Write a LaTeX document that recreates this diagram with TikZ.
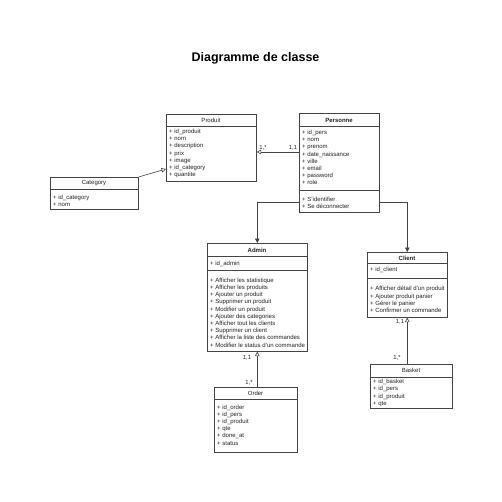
\documentclass[tikz,border=0pt]{standalone}
\usepackage{fontspec}
\setmainfont{Liberation Sans}
\usetikzlibrary{arrows.meta,calc}

\definecolor{linegray}{HTML}{444444}
\definecolor{textgray}{HTML}{222222}

\tikzset{
  classbox/.style={draw=linegray, fill=white, line width=0.6pt, inner sep=0pt, anchor=north west},
  classline/.style={draw=linegray, line width=0.6pt},
  classtitle/.style={font=\fontsize{6}{7}\selectfont, text=textgray, inner sep=0pt},
  boldtitle/.style={classtitle, font=\bfseries\fontsize{6}{7}\selectfont},
  members/.style={font=\fontsize{6}{7.2}\selectfont, align=left, inner sep=0pt, anchor=west, text=textgray},
  mult/.style={font=\fontsize{5.8}{6}\selectfont, text=textgray, inner sep=0pt},
  assoc/.style={draw=linegray, line width=0.6pt},
  inherit/.style={assoc, -{Triangle[open, length=4.5pt, width=4.5pt]}},
  generalize/.style={assoc, -{Triangle[length=4.5pt, width=4.5pt]}},
}

\begin{document}
\begin{tikzpicture}[x=1pt, y=-1pt]
\useasboundingbox[fill=white] (0,0) rectangle (501,502);
%title
\node[font=\bfseries\fontsize{12.5}{14}\selectfont] (title) at (255.5,58) {Diagramme de classe};
%Produit
\node[classbox, minimum width=90pt, minimum height=67pt] (produit) at (166,114) {};
\draw[classline] ($(produit.north west)+(0,12)$) -- ($(produit.north east)+(0,12)$);
\node[classtitle] (produit-t) at (211,120) {Produit};
\node[members] (produit-a) at (169,153.5) {+ id\_produit\\+ nom\\+ description\\+ prix\\+ image\\+ id\_category\\+ quantite};
%Personne
\node[classbox, minimum width=80pt, minimum height=99pt] (personne) at (299,113) {};
\draw[classline] ($(personne.north west)+(0,13)$) -- ($(personne.north east)+(0,13)$);
\draw[classline] ($(personne.north west)+(0,77)$) -- ($(personne.north east)+(0,77)$);
\node[boldtitle] (personne-t) at (339,120) {Personne};
\node[members] (personne-a) at (302,157.5) {+ id\_pers\\+ nom\\+ prenom\\+ date\_naissance\\+ ville\\+ email\\+ password\\+ role};
\node[members] (personne-m) at (302,202.5) {+ S'identifier\\+ Se déconnecter};
%Category
\node[classbox, minimum width=88pt, minimum height=32pt] (category) at (50,177) {};
\draw[classline] ($(category.north west)+(0,12)$) -- ($(category.north east)+(0,12)$);
\node[classtitle] (category-t) at (94,183) {Category};
\node[members] (category-a) at (53,200.5) {+ id\_category\\+ nom};
%Admin
\node[classbox, minimum width=100pt, minimum height=108pt] (admin) at (207,243) {};
\draw[classline] ($(admin.north west)+(0,13)$) -- ($(admin.north east)+(0,13)$);
\draw[classline] ($(admin.north west)+(0,27)$) -- ($(admin.north east)+(0,27)$);
\node[boldtitle] (admin-t) at (257,250) {Admin};
\node[members] (admin-a) at (210,264) {+ id\_admin};
\node[members] (admin-m) at (210,312.5) {+ Afficher les statistique\\+ Afficher les produits\\+ Ajouter un produit\\+ Supprimer un produit\\+ Modifier un produit\\+ Ajouter des categories\\+ Afficher tout les clients\\+ Supprimer un client\\+ Afficher la liste des commandes\\+ Modifier le status d'un commande};
%Client
\node[classbox, minimum width=80pt, minimum height=65pt] (client) at (367,252) {};
\draw[classline] ($(client.north west)+(0,11)$) -- ($(client.north east)+(0,11)$);
\draw[classline] ($(client.north west)+(0,26)$) -- ($(client.north east)+(0,26)$);
\node[boldtitle] (client-t) at (407,258) {Client};
\node[members] (client-a) at (370,270) {+ id\_client};
\node[members] (client-m) at (370,299.5) {+ Afficher détail d'un produit\\+ Ajouter produit  panier\\+ Gérer le panier\\+ Confirmer un commande};
%Order
\node[classbox, minimum width=83pt, minimum height=65pt] (order) at (214,387) {};
\draw[classline] ($(order.north west)+(0,12)$) -- ($(order.north east)+(0,12)$);
\node[classtitle] (order-t) at (255.5,393) {Order};
\node[members] (order-a) at (217,425) {+ id\_order\\+ id\_pers\\+ id\_produit\\+ qte\\+ done\_at\\+ status};
%Basket
\node[classbox, minimum width=82pt, minimum height=44pt] (basket) at (370,364) {};
\draw[classline] ($(basket.north west)+(0,13)$) -- ($(basket.north east)+(0,13)$);
\node[classtitle] (basket-t) at (411,370) {Basket};
\node[members] (basket-a) at (373,393) {+ id\_basket\\+ id\_pers\\+ id\_produit\\+ qte};
%Category - Produit
\coordinate (produit-in) at (166,169);
\draw[inherit] (category.north east) -- (produit-in);
%Personne - Produit
\coordinate (personne-out) at (299,152);
\draw[inherit] (personne-out) -- (personne-out -| produit.east);
\node[mult] (m-produit) at (263,148) {1,*};
\node[mult] (m-personne) at (293,148) {1,1};
%Personne - Admin / Client
\coordinate (personne-l) at (299,202);
\coordinate (personne-r) at (379,202);
\draw[generalize] (personne-l) -| (admin.north);
\draw[generalize] (personne-r) -| (client.north);
%Order - Admin
\draw[inherit] (order.north -| admin.south) -- (admin.south);
\node[mult] (m-admin) at (247,358) {1,1};
\node[mult] (m-order) at (249,383) {1,*};
%Basket - Client
\draw[inherit] (basket.north -| client.south) -- (client.south);
\node[mult] (m-client) at (400,322) {1,1};
\node[mult] (m-basket) at (397,358) {1,*};
\end{tikzpicture}
\end{document}
